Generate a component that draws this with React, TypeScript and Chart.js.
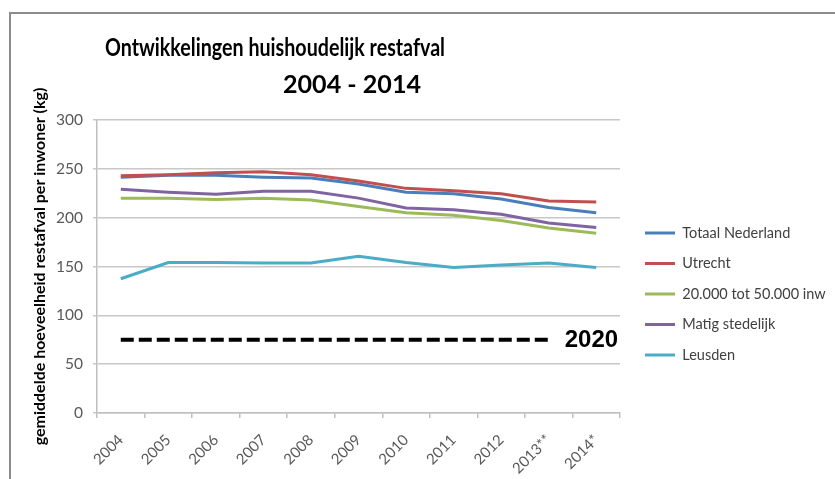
import React, { useEffect, useRef } from 'react';
import { Chart, registerables } from 'chart.js';

Chart.register(...registerables);

const categories = ['2004', '2005', '2006', '2007', '2008', '2009', '2010', '2011', '2012', '2013**', '2014*'];
const totaalNederland = [241.5, 243.5, 243.5, 241.5, 240.5, 234.5, 226, 224.5, 219, 210.5, 205];
const utrecht = [243, 244, 246, 247, 244, 237.5, 230, 227.5, 224.5, 217, 216];
const gemeenten20000tot50000 = [220, 220, 218.5, 220, 218, 211.5, 205, 202.5, 197, 189.5, 184];
const matigStedelijk = [229, 226, 224, 227, 227, 220, 210, 208, 203.5, 194.5, 190];
const leusden = [137.5, 154, 154, 153.5, 153.5, 160.5, 154, 149, 151.5, 153.5, 149];
const doel2020 = [75, 75, 75, 75, 75, 75, 75, 75, 75, 75, null];

const seriesNames = ['Totaal Nederland', 'Utrecht', '20.000 tot 50.000 inw', 'Matig stedelijk', 'Leusden'];
const targetLabel = '2020';
const titleLines = ['Ontwikkelingen huishoudelijk restafval', '2004 - 2014'];
const yAxisTitle = 'gemiddelde hoeveelheid restafval per inwoner (kg)';
const yMin = 0;
const yMax = 300;
const yStep = 50;

const colors = ['#4a7ebb', '#c0504d', '#9bbb59', '#8064a2', '#4bacc6'];

// layout of the title lines: [centre x, baseline y, target width]
const titleLayout = [
  [275, 56, 340],
  [352, 93, 138],
];

const titlePlugin = {
  id: 'customTitle',
  afterDraw(chart: any) {
    const ctx = chart.ctx;
    titleLines.forEach((line, i) => {
      const [cx, by, w] = titleLayout[i];
      ctx.save();
      ctx.font = 'bold 24px Lato';
      ctx.fillStyle = '#000000';
      ctx.textAlign = 'center';
      ctx.textBaseline = 'alphabetic';
      const natural = ctx.measureText(line).width;
      const sx = natural > 0 ? w / natural : 1;
      ctx.translate(cx, by);
      ctx.scale(sx, 1);
      ctx.fillText(line, 0, 0);
      ctx.restore();
    });
  },
};

const targetLabelPlugin = {
  id: 'targetLabel',
  afterDatasetsDraw(chart: any) {
    const meta = chart.getDatasetMeta(5);
    let idx = -1;
    doel2020.forEach((v, i) => {
      if (v !== null) idx = i;
    });
    if (idx < 0) return;
    const pt = meta.data[idx];
    const ctx = chart.ctx;
    ctx.save();
    ctx.font = 'bold 24px "Liberation Sans"';
    ctx.fillStyle = '#000000';
    ctx.textAlign = 'left';
    ctx.textBaseline = 'middle';
    ctx.fillText(targetLabel, pt.x + 16, pt.y + 1);
    ctx.restore();
  },
};

export default function App() {
  const canvasRef = useRef<HTMLCanvasElement | null>(null);

  useEffect(() => {
    if (!canvasRef.current) return;
    const seriesData = [totaalNederland, utrecht, gemeenten20000tot50000, matigStedelijk, leusden];
    const datasets: any[] = seriesData.map((d, i) => ({
      label: seriesNames[i],
      data: d,
      borderColor: colors[i],
      backgroundColor: colors[i],
      borderWidth: 3,
      pointRadius: 0,
      tension: 0,
      fill: false,
      order: 10 - i,
    }));
    datasets.push({
      label: targetLabel,
      data: doel2020,
      borderColor: '#000000',
      backgroundColor: '#000000',
      borderWidth: 4,
      borderDash: [13, 5],
      pointRadius: 0,
      fill: false,
      spanGaps: false,
      order: 0,
    });

    const chart = new Chart(canvasRef.current, {
      type: 'line',
      data: { labels: categories, datasets },
      plugins: [titlePlugin, targetLabelPlugin],
      options: {
        animation: false,
        responsive: false,
        events: [],
        layout: { padding: { left: 12, top: 120, right: 0, bottom: 0 } },
        plugins: {
          title: { display: false },
          tooltip: { enabled: false },
          legend: {
            position: 'right',
            align: 'start',
            fullSize: false,
            maxWidth: 206,
            title: { display: true, text: ' ', padding: { top: 75.35, bottom: 0 }, font: { size: 12 } },
            labels: {
              usePointStyle: true,
              pointStyle: 'line',
              pointStyleWidth: 30,
              padding: 16,
              color: '#404040',
              font: { family: 'Lato', size: 14.5 },
              filter: (item: any) => item.datasetIndex < 5,
              sort: (a: any, b: any) => a.datasetIndex - b.datasetIndex,
            },
          },
        },
        scales: {
          x: {
            type: 'category',
            offset: true,
            grid: {
              display: true,
              drawOnChartArea: false,
              drawTicks: true,
              tickLength: 5,
              offset: true,
              color: '#bfbfbf',
              lineWidth: 1.5,
            },
            border: { display: true, color: '#bfbfbf', width: 1.5 },
            ticks: {
              minRotation: 45,
              maxRotation: 45,
              autoSkip: false,
              padding: 13,
              color: '#595959',
              font: { family: 'Lato', size: 15 },
            },
            afterFit: (s: any) => {
              s.height = 66;
            },
          },
          y: {
            min: yMin,
            max: yMax,
            ticks: {
              stepSize: yStep,
              padding: 10,
              color: '#595959',
              font: { family: 'Lato', size: 15.5 },
            },
            grid: { color: '#c8c8c8', lineWidth: 1.5, drawTicks: true, tickLength: 4 },
            border: { display: true, color: '#bfbfbf', width: 1.5 },
            title: {
              display: true,
              text: yAxisTitle,
              color: '#000000',
              font: { family: 'Lato', size: 16, weight: 'bold' },
              padding: { top: 18.4, bottom: 0 },
            },
            afterFit: (s: any) => {
              s.width = 85;
            },
          },
          gap: {
            type: 'linear',
            position: 'right',
            display: true,
            grid: { display: false },
            ticks: { display: false },
            border: { display: false },
            afterFit: (s: any) => {
              s.width = 9;
            },
          },
        },
      } as any,
    });
    return () => chart.destroy();
  }, []);

  return (
    <div style={{ position: 'absolute', left: 0, top: 0, width: 835, height: 479, background: '#ffffff' }}>
      <div
        style={{
          position: 'absolute',
          left: 9,
          top: 12,
          width: 835,
          height: 479,
          borderTop: '2px solid #8c8c8c',
          borderLeft: '2px solid #8c8c8c',
        }}
      />
      <canvas ref={canvasRef} width={835} height={479} style={{ position: 'absolute', left: 0, top: 0 }} />
    </div>
  );
}
